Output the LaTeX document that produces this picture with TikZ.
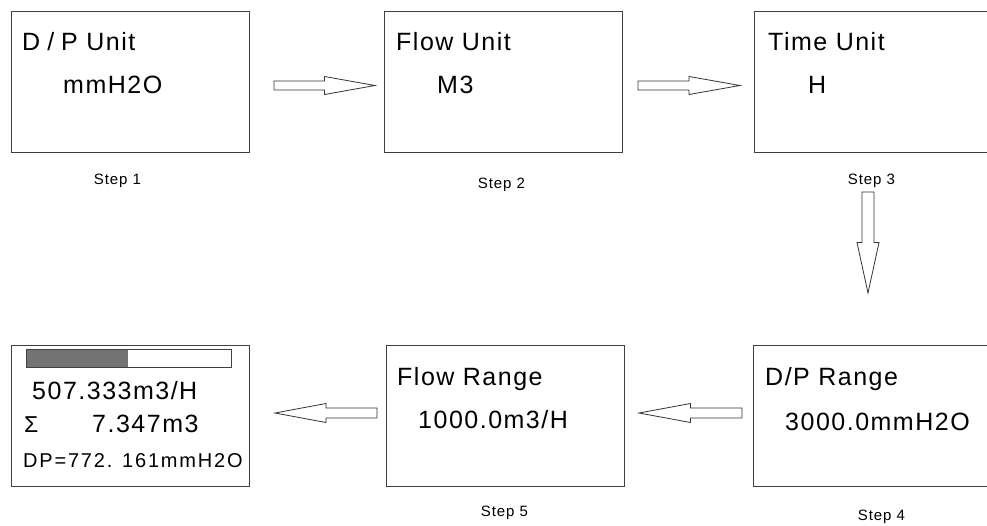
\documentclass[tikz,border=0pt]{standalone}
\usepackage{fontspec}
\setmainfont{Liberation Sans}
\newfontfamily\lcdfont[LetterSpace=6]{Liberation Sans}
\newfontfamily\dpfont[LetterSpace=9]{Liberation Sans}
\usetikzlibrary{positioning, calc}

% block arrow from #1 to #2, shaft half width #3, head half width #4
\newcommand{\blockarrow}[4]{%
  \coordinate (bmid) at ($(#1)!0.5!(#2)$);
  \draw[blk] ($(#1)!#3!90:(#2)$) -- ($(bmid)!#3!90:(#2)$) -- ($(bmid)!#4!90:(#2)$)
    -- (#2) -- ($(bmid)!#4!-90:(#2)$) -- ($(bmid)!#3!-90:(#2)$)
    -- ($(#1)!#3!-90:(#2)$) -- cycle;}

\begin{document}
\begin{tikzpicture}[x=1pt, y=-1pt,
  screen/.style={draw=black!75, line width=0.9pt, minimum width=238pt,
                 minimum height=141pt, anchor=north west, inner sep=0pt},
  big/.style={font=\lcdfont\fontsize{25}{28}\selectfont, anchor=base west, inner sep=0pt},
  small/.style={font=\dpfont\fontsize{20}{22}\selectfont, anchor=base west, inner sep=0pt},
  steplbl/.style={font=\lcdfont\fontsize{15}{17}\selectfont, anchor=base, inner sep=0pt},
  blk/.style={draw=black!80, line width=0.8pt, fill=white, line join=miter},
]
\useasboundingbox (0,0) rectangle (987,525);
\clip (0,0) rectangle (987,525);

% === Screens ===
\node[screen] (unit1) at (11,11) {};
\node[screen] (unit2) at (384,11) {};
\node[screen] (unit3) at (754,11) {};
\node[screen] (range4) at (753,345) {};
\node[screen] (range5) at (386,345) {};
\node[screen] (disp6) at (11,345) {};

% === Screen texts ===
\node[big] (t1) at ($(unit1.north west)+(11,39)$) {D\hspace{7pt}/\hspace{7pt}P Unit};
\node[big] (v1) at ($(unit1.north west)+(52,82)$) {mmH2O};
\node[big] (t2) at ($(unit2.north west)+(12,39)$) {Flow Unit};
\node[big] (v2) at ($(unit2.north west)+(53,82)$) {M3};
\node[big] (t3) at ($(unit3.north west)+(14,39)$) {Time Unit};
\node[big] (v3) at ($(unit3.north west)+(54,82)$) {H};
\node[big] (t4) at ($(range4.north west)+(12,40)$) {D/P Range};
\node[big] (v4) at ($(range4.north west)+(32,85)$) {3000.0mmH2O};
\node[big] (t5) at ($(range5.north west)+(11,40)$) {Flow Range};
\node[big] (v5) at ($(range5.north west)+(32,83)$) {1000.0m3/H};

% bar graph on the run screen
\draw[draw=black!75, line width=0.8pt] ($(disp6.north west)+(15,4)$) rectangle ($(disp6.north west)+(220,22)$);
\fill[black!55] ($(disp6.north west)+(15.5,4.5)$) rectangle ($(disp6.north west)+(117,21.5)$);
\node[big] (flow) at ($(disp6.north west)+(21,54)$) {507.333m3/H};
\node[anchor=base west, inner sep=0pt, font=\fontsize{23}{25}\selectfont] (sigma) at ($(disp6.north west)+(13,87)$) {Σ};
\node[big] (total) at ($(disp6.north west)+(81,87)$) {7.347m3};
\node[small] (dp) at ($(disp6.north west)+(12,122)$) {DP=772. 161mmH2O};

% === Step labels ===
\node[steplbl] (s1) at ($(unit1.south)+(-13,32)$) {Step 1};
\node[steplbl] (s2) at ($(unit2.south)+(-2,36)$) {Step 2};
\node[steplbl] (s3) at ($(unit3.south)+(-2,32)$) {Step 3};
\node[steplbl] (s5) at ($(range5.south)+(-1,30)$) {Step 5};
\node[steplbl] (s4) at ($(range4.south)+(9,34)$) {Step 4};

% === Arrows ===
\coordinate (a12s) at (274,85.5);  \coordinate (a12e) at (375,85.5);
\coordinate (a23s) at (638,85.5);  \coordinate (a23e) at (740,85.5);
\coordinate (a34s) at (868,192);   \coordinate (a34e) at (868,293);
\coordinate (a45s) at (742,413);   \coordinate (a45e) at (639,413);
\coordinate (a56s) at (377,413);   \coordinate (a56e) at (275,413);

\blockarrow{a12s}{a12e}{4.5pt}{9pt}
\blockarrow{a23s}{a23e}{4.5pt}{9pt}
\blockarrow{a34s}{a34e}{6pt}{11pt}
\blockarrow{a45s}{a45e}{5pt}{9.5pt}
\blockarrow{a56s}{a56e}{5pt}{9.5pt}

\end{tikzpicture}
\end{document}
